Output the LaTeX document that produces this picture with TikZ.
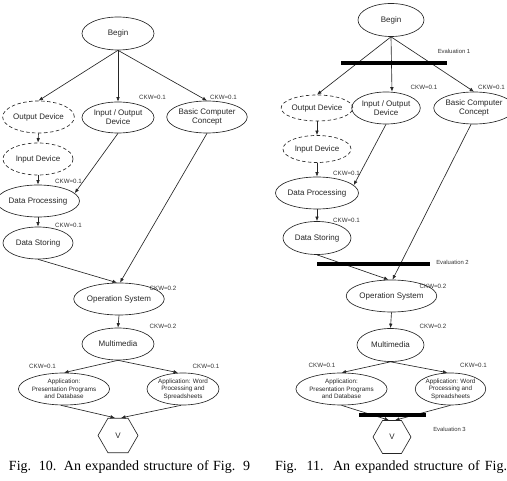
\documentclass[tikz,border=0pt]{standalone}
\usepackage{fontspec}
\setmainfont{Liberation Serif}
\setsansfont{Liberation Sans}
\usetikzlibrary{shapes.geometric,arrows.meta,calc}
\begin{document}
\begin{tikzpicture}[x=1pt,y=-1pt,
  ell/.style={draw=black!85, ellipse, inner sep=0pt, line width=0.65pt, text=black!85,
    font=\sffamily\fontsize{8}{9}\selectfont, align=center},
  dell/.style={ell, dash pattern=on 3.5pt off 2.5pt},
  appell/.style={ell, font=\sffamily\fontsize{6.3}{7.4}\selectfont},
  hexv/.style={draw=black!85, regular polygon, regular polygon sides=6, inner sep=0pt,
    line width=0.65pt, text=black!85, font=\sffamily\fontsize{8}{9}\selectfont},
  arr/.style={-{Latex[length=4.5pt,width=3.6pt]}, line width=0.65pt, draw=black!85},
  ckw/.style={inner sep=0pt, text=black!80, font=\sffamily\fontsize{6.2}{7}\selectfont},
  evl/.style={inner sep=0pt, text=black!80, font=\sffamily\fontsize{5.9}{7}\selectfont},
  evalbar/.style={line width=3.6pt, draw=black},
  captext/.style={inner sep=0pt, anchor=base, font=\rmfamily\fontsize{14}{16}\selectfont}
]
\useasboundingbox (0,0) rectangle (507,481);

% ================= LEFT (Fig. 10) =================
\node[ell, minimum width=72pt, minimum height=33pt] (beginL) at (118,33.5) {Begin};
\node[dell, minimum width=71pt, minimum height=32pt] (outL) at (38.5,117) {Output Device};
\node[ell, minimum width=72pt, minimum height=31pt] (ioL) at (118,117.5) {Input / Output\\Device};
\node[ell, minimum width=72pt, minimum height=32pt] (bccL) at (207,117) {Basic Computer\\Concept};
\node[dell, minimum width=70pt, minimum height=32pt] (inL) at (38,159) {Input Device};
\node[ell, minimum width=72pt, minimum height=32pt] (dpL) at (38,201) {Data Processing};
\node[ell, minimum width=70pt, minimum height=32pt] (dsL) at (38,243) {Data Storing};
\node[ell, minimum width=72pt, minimum height=32pt] (osL) at (119,299) {Operation System};
\node[ell, minimum width=72pt, minimum height=32pt] (mmL) at (118,344) {Multimedia};
\node[appell, minimum width=72pt, minimum height=32pt] (appaL) at (64,389) {Application:\\Presentation Programs\\and Database};
\node[appell, minimum width=72pt, minimum height=32pt] (appbL) at (183,389) {Application: Word\\Processing and\\Spreadsheets};
\node[hexv, minimum size=40pt] (hexL) at (118,435.5) {V};

\node[ckw] (ckwL1) at (152.5,97) {CKW=0.1};
\node[ckw] (ckwL2) at (223.5,97) {CKW=0.1};
\node[ckw] (ckwL3) at (68.5,181) {CKW=0.1};
\node[ckw] (ckwL4) at (68.5,225) {CKW=0.1};
\node[ckw] (ckwL5) at (163,288) {CKW=0.2};
\node[ckw] (ckwL6) at (163,326) {CKW=0.2};
\node[ckw] (ckwL7) at (42.5,366) {CKW=0.1};
\node[ckw] (ckwL8) at (206,366) {CKW=0.1};

\draw[arr] (beginL.south) -- (outL.north);
\draw[arr] (beginL.south) -- (ioL.north);
\draw[arr] (beginL.south) -- (bccL.north);
\draw[arr] (outL.south) -- (inL.north);
\draw[arr] (inL.south) -- (dpL.north);
\draw[arr] (ioL.south) -- (dpL.12);
\draw[arr] (dpL.south) -- (dsL.north);
\draw[arr] (dsL.south) -- ($(osL.north)+(-2,0)$);
\draw[arr] (bccL.south) -- ($(osL.north)+(1,0)$);
\draw[arr] (osL.south) -- (mmL.north);
\draw[arr] (mmL.south) -- (appaL.north);
\draw[arr] (mmL.south) -- ($(appbL.north)+(-5,0)$);
\draw[arr] ($(appaL.south)+(-3,0)$) -- ($(hexL.north)+(-3,0)$);
\draw[arr] ($(appbL.south)+(-2,0)$) -- ($(hexL.north)+(3,0)$);

\node[captext] (capL) at (129.5,471) {\makebox[241pt][s]{Fig. 10. An expanded structure of Fig. 9}};

% ================= RIGHT (Fig. 11) =================
\node[ell, minimum width=66pt, minimum height=33pt] (beginR) at (391,20) {Begin};
\node[dell, minimum width=68pt, minimum height=26pt] (outR) at (317,108) {Output Device};
\node[ell, minimum width=58pt, minimum height=32pt] (ioR) at (386,108) {Input / Output\\Device};
\node[ell, minimum width=66pt, minimum height=32pt] (bccR) at (474,108) {Basic Computer\\Concept};
\node[dell, minimum width=68pt, minimum height=27pt] (inR) at (317,149) {Input Device};
\node[ell, minimum width=68pt, minimum height=32pt] (dpR) at (317,193) {Data Processing};
\node[ell, minimum width=68pt, minimum height=33pt] (dsR) at (317,238) {Data Storing};
\node[ell, minimum width=67pt, minimum height=32pt] (osR) at (391.5,296) {Operation System};
\node[ell, minimum width=67pt, minimum height=33pt] (mmR) at (390.5,345) {Multimedia};
\node[appell, minimum width=67pt, minimum height=32pt] (appaR) at (341.5,389) {Application:\\Presentation Programs\\and Database};
\node[appell, minimum width=65pt, minimum height=32pt] (appbR) at (450.5,389) {Application: Word\\Processing and\\Spreadsheets};
\node[hexv, minimum size=38pt] (hexR) at (392,437) {V};

\node[ckw] (ckwR1) at (424,87) {CKW=0.1};
\node[ckw] (ckwR2) at (491.5,87) {CKW=0.1};
\node[ckw] (ckwR3) at (346.5,173) {CKW=0.1};
\node[ckw] (ckwR4) at (346.5,220) {CKW=0.1};
\node[ckw] (ckwR5) at (433,286) {CKW=0.2};
\node[ckw] (ckwR6) at (433,326) {CKW=0.2};
\node[ckw] (ckwR7) at (322,365) {CKW=0.1};
\node[ckw] (ckwR8) at (473.5,365) {CKW=0.1};

\node[evl] (ev1) at (454,51) {Evaluation 1};
\node[evl] (ev2) at (452.5,262) {Evaluation 2};
\node[evl] (ev3) at (449.5,429) {Evaluation 3};

\draw[arr] (beginR.south) -- (outR.north);
\draw[arr] (beginR.south) -- ($(ioR.north)+(6,0)$);
\draw[arr] (beginR.south) -- (bccR.north);
\draw[arr] (outR.south) -- (inR.north);
\draw[arr] (inR.south) -- (dpR.north);
\draw[arr] (ioR.south) -- (dpR.12);
\draw[arr] (dpR.south) -- (dsR.north);
\draw[arr] (dsR.south) -- ($(osR.north)+(-3,0)$);
\draw[arr] ($(bccR.south)+(-3,0)$) -- ($(osR.north)+(1,0)$);
\draw[arr] (osR.south) -- (mmR.north);
\draw[arr] (mmR.south) -- (appaR.north);
\draw[arr] (mmR.south) -- ($(appbR.north)+(-3,0)$);
\draw[arr] (appaR.south) -- ($(hexR.north)+(-3,0)$);
\draw[arr] (appbR.south) -- ($(hexR.north)+(3,0)$);

\draw[evalbar] (341,63) -- (447,63);
\draw[evalbar] (317,264) -- (430,264);
\draw[evalbar] (359,415) -- (426,415);

\node[captext] (capR) at (391,471) {\makebox[232pt][s]{Fig. 11. An expanded structure of Fig.}};
\end{tikzpicture}
\end{document}
